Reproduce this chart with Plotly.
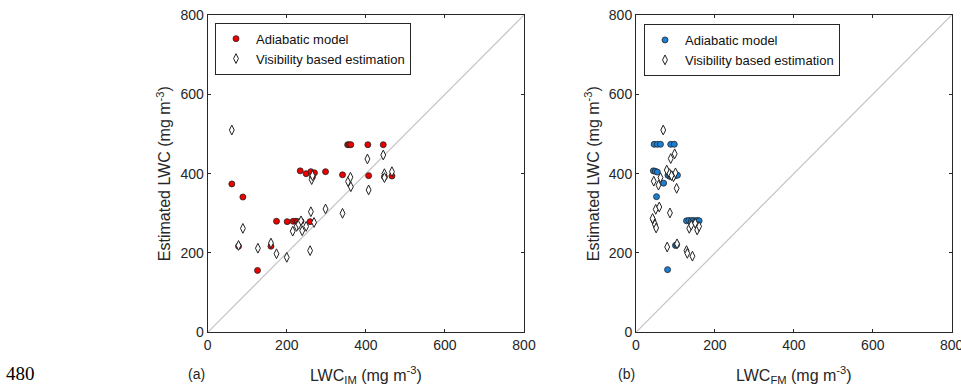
import plotly.graph_objects as go

# Panel (a): LWC_IM vs estimated LWC
a_adiab_x = [61, 89, 78, 126, 160, 174, 201, 216, 223, 227, 236, 259,
             234, 249, 261, 265, 270, 298, 341, 407, 447, 466,
             354, 358, 362, 405, 444]
a_adiab_y = [374, 341, 217, 156, 217, 280, 279, 280, 280, 279, 280, 279,
             407, 400, 405, 392, 402, 405, 397, 395, 392, 394,
             473, 473, 473, 473, 473]
a_vis_x = [61, 89, 78, 127, 160, 174, 200, 215, 225, 230, 236, 239, 249, 259,
           261, 263, 265, 269, 298, 341, 355, 361, 362, 404, 407, 444, 447, 447, 466]
a_vis_y = [510, 262, 219, 212, 225, 198, 189, 255, 267, 272, 281, 256, 267, 206,
           304, 385, 395, 277, 311, 300, 380, 391, 367, 437, 359, 447, 400, 390, 405]

# Panel (b): LWC_FM vs estimated LWC
b_adiab_x = [46, 54, 62, 88, 97,
             44, 49, 54, 81, 88, 94, 101, 86, 98, 105,
             70, 52,
             128, 134, 140, 145, 151, 156, 160,
             100, 103, 80]
b_adiab_y = [474, 474, 474, 474, 474,
             407, 406, 404, 396, 398, 397, 398, 393, 394, 396,
             376, 342,
             281, 282, 281, 282, 281, 282, 281,
             219, 221, 158]
b_vis_x = [69, 98, 88, 78, 62, 45, 57, 103, 85, 95, 100, 50, 59, 86, 44,
           48, 51, 135, 155, 160, 140, 150, 79, 104, 128, 130, 143, 42, 90]
b_vis_y = [510, 450, 438, 409, 390, 381, 371, 363, 400, 392, 402, 310, 316, 301, 282,
           272, 263, 262, 258, 267, 270, 275, 215, 223, 206, 199, 192, 287, 395]

one_to_one = [0, 800]
ticks = [0, 200, 400, 600, 800]

AX = "#262626"
FONT = "Liberation Sans, Arial, Helvetica, sans-serif"
W, H = 961, 386

fig = go.Figure()

for ref_x, ref_y in [("x", "y"), ("x2", "y2")]:
    fig.add_trace(go.Scatter(x=one_to_one, y=one_to_one, mode="lines",
                             line=dict(color="#c4c4c4", width=1.2),
                             xaxis=ref_x, yaxis=ref_y, showlegend=False,
                             hoverinfo="skip"))

vis_marker = dict(symbol="diamond-tall", size=7, color="white",
                  line=dict(color="#222222", width=1))

fig.add_trace(go.Scatter(x=a_adiab_x, y=a_adiab_y, mode="markers",
                         name="Adiabatic model", xaxis="x", yaxis="y", legend="legend",
                         marker=dict(symbol="circle", size=6, color="#ee0000",
                                     line=dict(color="#222222", width=0.8))))
fig.add_trace(go.Scatter(x=a_vis_x, y=a_vis_y, mode="markers",
                         name="Visibility based estimation", xaxis="x", yaxis="y",
                         legend="legend", marker=vis_marker))
fig.add_trace(go.Scatter(x=b_adiab_x, y=b_adiab_y, mode="markers",
                         name="Adiabatic model", xaxis="x2", yaxis="y2", legend="legend2",
                         marker=dict(symbol="circle", size=6, color="#1a80d6",
                                     line=dict(color="#222222", width=0.8))))
fig.add_trace(go.Scatter(x=b_vis_x, y=b_vis_y, mode="markers",
                         name="Visibility based estimation", xaxis="x2", yaxis="y2",
                         legend="legend2", marker=vis_marker))

axis_common = dict(range=[0, 800], tickvals=ticks, ticks="inside", ticklen=3,
                   tickcolor=AX, showline=True, linecolor=AX, linewidth=1,
                   mirror="ticks", showgrid=False, zeroline=False,
                   ticklabeloverflow="allow",
                   tickfont=dict(size=14, color=AX, family=FONT))

title_font = dict(size=16, color=AX, family=FONT)
yd = [1 - 332.3 / H, 1 - 15 / H]
legend_common = dict(xanchor="left", yanchor="top", bordercolor=AX, borderwidth=1,
                     bgcolor="white", font=dict(size=13, color="#111111", family=FONT),
                     tracegroupgap=0, itemwidth=30)

fig.update_layout(
    width=W, height=H,
    margin=dict(l=0, r=0, t=0, b=0, pad=0, autoexpand=False),
    paper_bgcolor="white", plot_bgcolor="white",
    font=dict(family=FONT, color=AX),
    xaxis=dict(domain=[207.7 / W, 524 / W], anchor="y",
               title=dict(text="LWC<sub>IM</sub> (mg m<sup>-3</sup>)",
                          font=title_font, standoff=17),
               **axis_common),
    yaxis=dict(domain=yd, anchor="x",
               title=dict(text="Estimated LWC (mg m<sup>-3</sup>)",
                          font=title_font, standoff=5),
               **axis_common),
    xaxis2=dict(domain=[636 / W, 951.7 / W], anchor="y2",
                title=dict(text="LWC<sub>FM</sub> (mg m<sup>-3</sup>)",
                           font=title_font, standoff=17),
                **axis_common),
    yaxis2=dict(domain=yd, anchor="x2",
                title=dict(text="Estimated LWC (mg m<sup>-3</sup>)",
                           font=title_font, standoff=5),
                **axis_common),
    legend=dict(x=215 / W, y=1 - 22.7 / H, **legend_common),
    legend2=dict(x=644 / W, y=1 - 24 / H, **legend_common),
    annotations=[
        dict(text="(a)", x=196 / W, y=1 - 374 / H, xref="paper", yref="paper",
             xanchor="center", yanchor="middle", showarrow=False,
             font=dict(size=14, color=AX, family=FONT)),
        dict(text="(b)", x=626 / W, y=1 - 374 / H, xref="paper", yref="paper",
             xanchor="center", yanchor="middle", showarrow=False,
             font=dict(size=14, color=AX, family=FONT)),
        dict(text="480", x=4 / W, y=1 - 373 / H, xref="paper", yref="paper",
             xanchor="left", yanchor="middle", showarrow=False,
             font=dict(size=19, color="black", family="Liberation Serif, Times New Roman, serif")),
    ],
)

fig.write_html("out.html", config={"displayModeBar": False},
               post_script="document.body.style.margin='0px';document.body.style.overflow='hidden';")
